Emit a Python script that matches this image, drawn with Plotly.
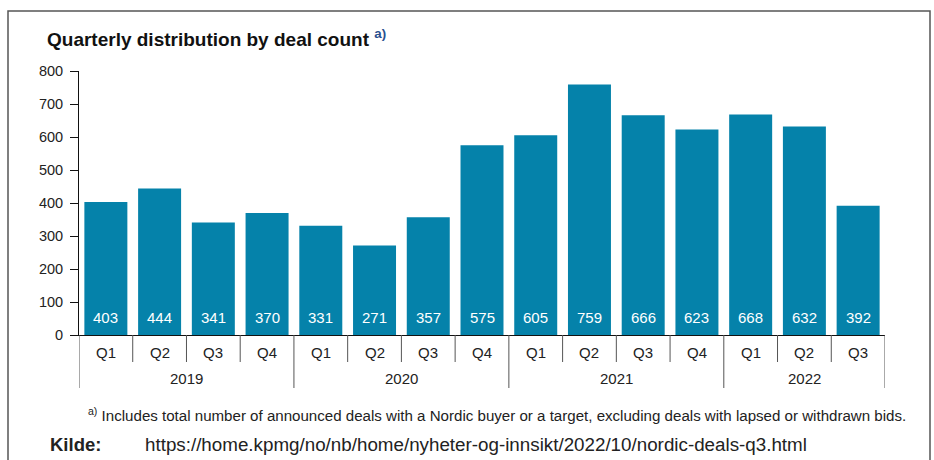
import plotly.graph_objects as go

quarters = ["Q1", "Q2", "Q3", "Q4", "Q1", "Q2", "Q3", "Q4", "Q1", "Q2", "Q3", "Q4", "Q1", "Q2", "Q3"]
years = ["2019", "2020", "2021", "2022"]
year_sizes = [4, 4, 4, 3]
deals = [403, 444, 341, 370, 331, 271, 357, 575, 605, 759, 666, 623, 668, 632, 392]
y_ticks = [0, 100, 200, 300, 400, 500, 600, 700, 800]

BAR = "#0582aa"
FONT = "Liberation Sans, Arial, sans-serif"
TXT = "#222222"

W, H = 934, 460
L, R, T, B = 79, 49, 71, 125
pw, ph = W - L - R, H - T - B

def px_x(p):
    return (p - L) / pw

def px_y(p):
    return (H - B - p) / ph

x = list(range(len(deals)))

fig = go.Figure()
fig.add_trace(go.Bar(x=x, y=deals, marker=dict(color=BAR, line=dict(width=0)),
                     hoverinfo="skip"))

ann = []
shapes = []

# value labels
for i, v in enumerate(deals):
    ann.append(dict(x=i, y=0, xref="x", yref="y", text=str(v), showarrow=False,
                    yanchor="bottom", yshift=7, font=dict(family=FONT, size=15, color="white")))

# quarter labels
for i, q in enumerate(quarters):
    ann.append(dict(x=i, y=px_y(352), xref="x", yref="paper", text=q, showarrow=False,
                    yanchor="middle", font=dict(family=FONT, size=15, color=TXT)))

# year boundaries and labels
start = 0
bounds = [-0.5]
for yv, n in zip(years, year_sizes):
    ann.append(dict(x=start + (n - 1) / 2, y=px_y(378), xref="x", yref="paper", text=yv,
                    showarrow=False, yanchor="middle", font=dict(family=FONT, size=15, color=TXT)))
    start += n
    bounds.append(start - 0.5)

for b in range(len(deals) + 1):
    xb = b - 0.5
    if xb in bounds:
        y1 = px_y(388)
    else:
        y1 = px_y(362)
    shapes.append(dict(type="line", xref="x", yref="paper", x0=xb, x1=xb, y0=0, y1=y1,
                       line=dict(color="#555555", width=1)))

# outer box
shapes.append(dict(type="rect", xref="paper", yref="paper",
                   x0=px_x(8), x1=px_x(930), y0=px_y(475), y1=px_y(11),
                   line=dict(color="#555555", width=1.5), fillcolor="rgba(0,0,0,0)", layer="below"))

# title
ann.append(dict(x=px_x(45), y=px_y(38), xref="paper", yref="paper", xanchor="left", yanchor="middle",
                text="<b>Quarterly distribution by deal count</b> <sup><span style='color:#2a4f8f'><b>a)</b></span></sup>",
                showarrow=False, font=dict(family=FONT, size=19, color="#111111")))

# footnote
ann.append(dict(x=px_x(908), y=px_y(414), xref="paper", yref="paper", xanchor="right", yanchor="middle",
                text="<sup>a)</sup> Includes total number of announced deals with a Nordic buyer or a target, excluding deals with lapsed or withdrawn bids.",
                showarrow=False, font=dict(family=FONT, size=15.1, color=TXT)))

ann.append(dict(x=px_x(48), y=px_y(444), xref="paper", yref="paper", xanchor="left", yanchor="middle",
                text="<b>Kilde:</b>", showarrow=False, font=dict(family=FONT, size=18.5, color=TXT)))
ann.append(dict(x=px_x(143), y=px_y(444), xref="paper", yref="paper", xanchor="left", yanchor="middle",
                text="https://home.kpmg/no/nb/home/nyheter-og-innsikt/2022/10/nordic-deals-q3.html",
                showarrow=False, font=dict(family=FONT, size=18.8, color=TXT)))

fig.update_layout(
    width=W, height=H,
    margin=dict(l=L, r=R, t=T, b=B, autoexpand=False),
    paper_bgcolor="white", plot_bgcolor="white",
    showlegend=False, bargap=0.2,
    annotations=ann, shapes=shapes,
    xaxis=dict(range=[-0.5, len(deals) - 0.5], showticklabels=False, ticks="",
               showgrid=False, zeroline=False, showline=True, linecolor="#111111", linewidth=1,
               fixedrange=True),
    yaxis=dict(range=[0, 800], tickvals=y_ticks, ticks="outside", ticklen=8, tickcolor="#111111",
               ticklabelstandoff=4,
               showgrid=False, zeroline=False, showline=True, linecolor="#111111", linewidth=1,
               tickfont=dict(family=FONT, size=14.5, color=TXT), fixedrange=True),
)

fig.write_html("out.html", config={"displayModeBar": False},
               post_script="document.body.style.margin='0px';document.body.style.overflow='hidden';")
